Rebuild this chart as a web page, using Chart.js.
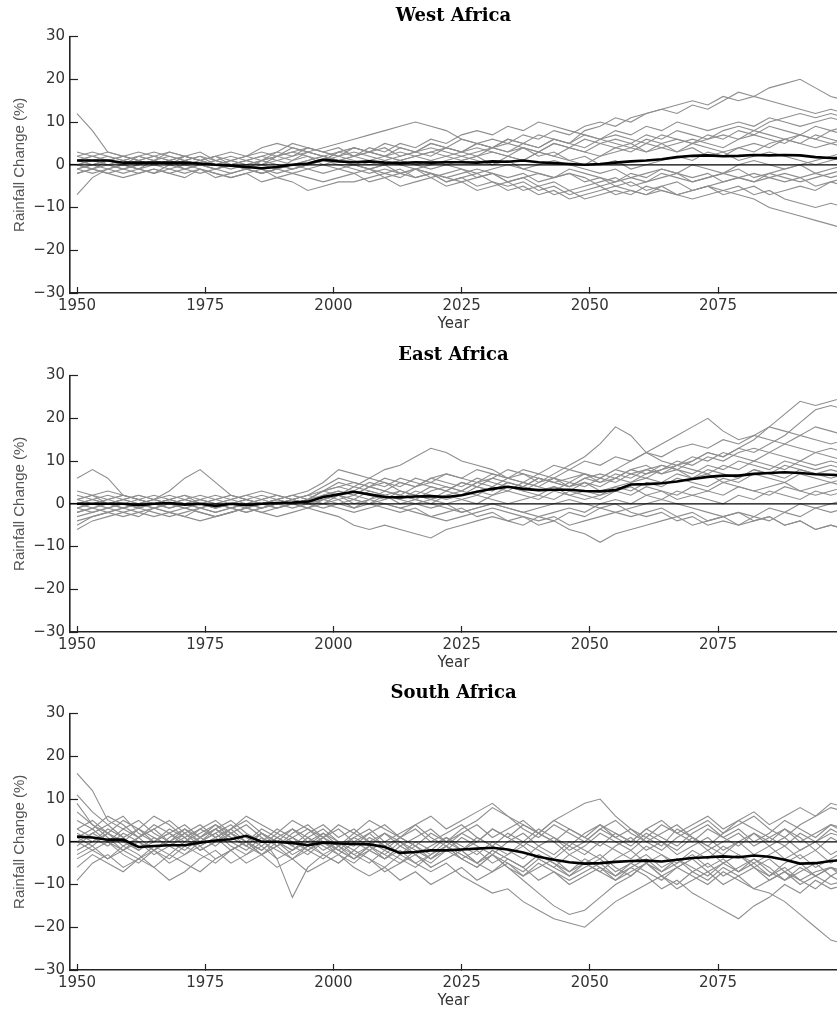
<!DOCTYPE html>
<html>
<head>
<meta charset="utf-8">
<title>Rainfall change, Africa</title>
<script src="https://cdn.jsdelivr.net/npm/chart.js@4.4.1/dist/chart.umd.min.js"></script>
<style>
  body { margin: 0; background: #fff; overflow: hidden; }
  canvas { position: absolute; left: 0; }
</style>
</head>
<body>
<canvas id="west" width="837" height="340" style="top:0px"></canvas>
<canvas id="east" width="837" height="340" style="top:339px"></canvas>
<canvas id="south" width="837" height="340" style="top:677px"></canvas>
<script>
const years = [1950, 1953, 1956, 1959, 1962, 1965, 1968, 1971, 1974, 1977, 1980, 1983, 1986, 1989, 1992, 1995, 1998,
  2001, 2004, 2007, 2010, 2013, 2016, 2019, 2022, 2025, 2028, 2031, 2034, 2037, 2040, 2043, 2046, 2049, 2052, 2055,
  2058, 2061, 2064, 2067, 2070, 2073, 2076, 2079, 2082, 2085, 2088, 2091, 2094, 2097, 2100];
const yearTicks = [1950, 1975, 2000, 2025, 2050, 2075];
const rainTicks = [-30, -20, -10, 0, 10, 20, 30];
const zeroLine = [{ x: 1940, y: 0 }, { x: 2110, y: 0 }];

// West Africa - model runs (% change), read every 3 years
const westRuns = [
  [12, 8, 3, 2, 1, 2, 1, 0, 1, 2, 0, -1, 1, 3, 2, 4, 3, 2, 4, 3, 5, 4, 3, 5, 4, 6, 5, 4, 6, 5, 7, 6, 5, 8, 9, 11, 10, 12, 13, 12, 14, 13, 15, 17, 16, 18, 19, 20, 18, 16, 15],
  [-1, 0, 1, 0, -1, 1, 0, 2, 1, 0, 1, 2, 3, 2, 4, 3, 2, 3, 4, 3, 2, 4, 3, 5, 4, 3, 5, 6, 5, 7, 6, 8, 7, 9, 10, 9, 11, 12, 13, 14, 15, 14, 16, 15, 16, 15, 14, 13, 12, 13, 12],
  [1, 2, 1, 0, 2, 1, 3, 2, 1, 2, 3, 2, 4, 5, 4, 3, 4, 5, 6, 7, 8, 9, 10, 9, 8, 6, 5, 4, 3, 4, 2, 3, 1, 2, 0, 1, -1, 0, 1, 2, 1, 3, 2, 4, 3, 5, 6, 7, 6, 8, 7],
  [0, -1, 1, 2, 1, 0, 1, -1, 0, 1, 2, 1, 0, 2, 3, 2, 1, 3, 2, 4, 3, 5, 4, 6, 5, 7, 8, 7, 9, 8, 10, 9, 8, 7, 6, 8, 7, 9, 8, 10, 9, 8, 9, 10, 9, 11, 10, 9, 10, 11, 10],
  [-2, -1, -2, -3, -2, -1, -2, -3, -1, -2, -3, -2, -4, -3, -2, -3, -4, -3, -2, -4, -3, -5, -4, -3, -5, -4, -6, -5, -4, -6, -5, -7, -6, -8, -7, -6, -7, -5, -6, -7, -6, -5, -6, -7, -8, -10, -11, -12, -13, -14, -15],
  [-7, -3, -1, 0, -1, -2, 0, 1, 0, -1, -2, -1, 0, -1, -2, -1, 0, 1, 0, -1, 0, -2, -1, -3, -2, -1, -3, -2, -4, -3, -5, -4, -6, -5, -4, -3, -5, -4, -3, -2, -4, -3, -2, -1, -3, -2, -1, 0, 1, 2, 3],
  [3, 2, 1, 2, 3, 2, 1, 2, 3, 1, 0, 1, 2, 3, 5, 4, 3, 4, 2, 3, 4, 2, 3, 2, 4, 3, 5, 4, 6, 5, 4, 6, 5, 4, 6, 7, 6, 5, 7, 6, 5, 6, 7, 6, 8, 7, 6, 5, 7, 6, 5],
  [1, 0, -1, -2, -1, -2, -1, 0, -1, -2, -3, -2, -1, -3, -4, -6, -5, -4, -4, -3, -2, -3, -1, -2, -3, -2, -1, -2, -3, -2, -4, -3, -2, -3, -5, -4, -3, -4, -2, -3, -4, -3, -2, -3, -4, -3, -2, -3, -2, -3, -2],
  [0, 1, 2, 1, 0, 1, 2, 1, 0, -1, 0, 1, 2, 1, 0, 1, 2, 1, 2, 3, 2, 1, 2, 3, 2, 3, 4, 3, 2, 4, 3, 5, 4, 3, 5, 6, 5, 7, 6, 8, 7, 6, 8, 9, 8, 10, 11, 12, 11, 12, 11],
  [-1, -2, -1, 0, 1, 0, -1, -2, -1, -3, -2, -1, -2, -1, 0, -1, -2, -1, 0, -1, -2, -1, -3, -2, -4, -3, -2, -4, -5, -4, -6, -5, -7, -6, -5, -7, -6, -7, -5, -4, -6, -5, -4, -3, -4, -2, -3, -4, -3, -2, -1],
  [2, 1, 0, 1, 2, 3, 2, 1, 2, 0, 1, 0, 1, 2, 1, 3, 2, 1, 2, 1, 0, 1, 2, 1, 0, 1, 2, 3, 2, 1, 3, 2, 4, 3, 2, 4, 3, 5, 4, 3, 5, 4, 3, 4, 5, 4, 6, 5, 4, 5, 4],
  [0, 1, 0, -1, 0, 1, 0, -1, -2, -1, 0, -1, 1, 0, -1, 0, 1, 0, -1, -2, -1, -2, -3, -2, -4, -3, -5, -4, -6, -5, -7, -6, -8, -7, -6, -5, -6, -7, -6, -7, -8, -7, -6, -5, -7, -6, -8, -9, -10, -9, -10],
  [-1, 0, 1, 0, -1, 0, 1, 2, 1, 0, -1, 0, -1, -2, -1, 0, 1, 2, 1, 0, 1, 0, -1, 0, 1, 2, 1, 0, 2, 1, 3, 2, 1, 0, 2, 3, 4, 3, 5, 6, 5, 7, 6, 8, 7, 9, 8, 7, 9, 8, 9],
  [1, 2, 3, 2, 1, 0, 1, 2, 1, 0, 1, 2, 1, 0, -1, 0, 1, 3, 4, 3, 2, 1, 0, 1, 2, 1, 2, 0, 1, -1, 0, 1, 0, -1, -2, -1, -3, -2, -1, -2, -3, -2, -4, -3, -2, -3, -4, -3, -5, -4, -3],
  [2, 3, 2, 1, 2, 1, 0, 1, 0, -1, 0, 1, 0, 1, 2, 3, 2, 1, 0, 1, 2, 3, 2, 3, 4, 3, 2, 4, 3, 5, 4, 6, 5, 7, 6, 5, 4, 6, 5, 3, 4, 2, 3, 1, 2, 3, 2, 1, 0, 1, 2],
  [-2, -1, 0, -1, -2, -1, -2, -1, 0, 1, 0, -1, -2, -1, 1, 2, 0, -1, -2, -1, -3, -2, -1, -2, -3, -4, -3, -2, -4, -3, -2, -3, -1, -2, -3, -4, -2, -3, -1, -2, 0, -1, -2, 0, 1, 0, -1, 0, -2, -1, 0],
  [0, -1, -2, -1, 0, 1, 0, 1, 2, 1, 0, -1, -2, -1, 0, 1, 2, 1, 0, -1, 0, 1, 0, -1, 0, -1, -2, -1, 0, -1, -2, -3, -2, -4, -3, -5, -4, -6, -5, -7, -6, -5, -7, -6, -5, -7, -6, -5, -6, -4, -5],
  [1, 0, 1, 2, 1, 2, 3, 2, 1, 2, 1, 0, 1, 2, 3, 4, 3, 2, 3, 2, 1, 2, 3, 4, 3, 2, 3, 4, 5, 4, 3, 5, 4, 6, 5, 4, 5, 3, 4, 5, 6, 5, 4, 6, 7, 6, 5, 7, 6, 5, 6]
];
const westMean = [1, 1, 1, 0.5, 0.5, 0.5, 0.5, 0.5, 0.3, 0, -0.2, -0.5, -0.8, -0.5, 0, 0.3, 1.2, 0.8, 0.6, 0.8, 0.5, 0.4, 0.6, 0.5, 0.6, 0.6,
  0.5, 0.8, 0.7, 1, 0.6, 0.4, 0.2, 0, 0.2, 0.5, 0.8, 1, 1.3, 1.8, 2.1, 2.2, 2, 2.1, 2.3, 2.2, 2.3, 2.2, 1.8, 1.6, 1.5];

// East Africa
const eastRuns = [
  [6, 8, 6, 2, 1, 0, 1, 2, 0, -1, 0, 1, 0, 1, 2, 1, 3, 5, 4, 6, 5, 4, 6, 5, 7, 6, 8, 7, 6, 8, 7, 9, 8, 10, 9, 11, 10, 12, 11, 13, 14, 13, 15, 14, 16, 15, 14, 16, 15, 14, 15],
  [1, 2, 0, 1, 2, 1, 3, 6, 8, 5, 2, 1, 0, 1, 2, 1, 3, 4, 3, 5, 4, 6, 5, 4, 3, 5, 4, 6, 5, 4, 6, 5, 4, 6, 7, 6, 8, 7, 9, 8, 7, 9, 8, 10, 9, 8, 10, 9, 8, 9, 8],
  [-1, 0, 1, 0, -1, 0, 1, 0, 1, 0, -1, 0, 1, 2, 1, 2, 4, 6, 5, 4, 3, 5, 4, 6, 5, 4, 6, 5, 4, 3, 5, 7, 9, 11, 14, 18, 16, 12, 10, 9, 11, 10, 12, 11, 10, 12, 11, 10, 12, 11, 10],
  [0, 1, 2, 1, 0, 1, 0, -1, 0, 1, 2, 1, 0, 1, 2, 3, 5, 8, 7, 6, 8, 9, 11, 13, 12, 10, 9, 8, 6, 7, 5, 6, 4, 5, 3, 4, 5, 6, 5, 7, 6, 8, 7, 6, 8, 7, 6, 8, 7, 6, 7],
  [-2, -1, 0, -1, 0, 1, 0, 1, 0, -1, 0, 1, 2, 1, 0, 1, 2, 3, 2, 4, 3, 2, 4, 5, 4, 3, 5, 4, 6, 5, 7, 6, 8, 7, 6, 8, 10, 12, 14, 16, 18, 20, 17, 15, 16, 18, 17, 16, 18, 17, 16],
  [1, 0, -1, 0, 1, 0, -1, 0, -1, -2, -1, 0, 1, 0, 1, 2, 1, 2, 3, 2, 1, 3, 2, 4, 3, 5, 4, 3, 5, 4, 6, 5, 4, 6, 5, 7, 6, 8, 9, 8, 10, 12, 11, 13, 15, 18, 21, 24, 23, 24, 25],
  [-1, -2, -1, 0, -1, 0, 1, 0, -1, 0, 1, 0, -1, 0, 1, 0, 2, 3, 2, 1, 3, 2, 1, 3, 4, 3, 2, 4, 3, 5, 4, 3, 5, 4, 6, 5, 7, 8, 7, 9, 10, 12, 11, 13, 12, 14, 16, 19, 22, 23, 22],
  [-5, -3, -2, -1, -2, -3, -2, -1, -2, -3, -2, -1, -2, -1, 0, -1, -2, -3, -5, -6, -5, -6, -7, -8, -6, -5, -4, -3, -4, -5, -3, -4, -2, -3, -1, -2, -3, -2, -1, -3, -2, -4, -3, -5, -4, -3, -5, -4, -6, -5, -6],
  [-6, -4, -3, -2, -1, -2, -3, -2, -1, 0, -1, -2, -1, 0, 1, 0, -1, 0, 1, 0, -1, -2, -1, -3, -2, -1, -3, -2, -4, -3, -5, -4, -6, -7, -9, -7, -6, -5, -4, -3, -5, -4, -3, -2, -3, -1, -2, 0, -1, 0, 1],
  [-3, -2, -1, -2, -3, -1, -2, -3, -1, -2, -1, 0, -1, 0, 1, 0, 1, 2, 0, 1, 2, 1, 0, -1, 0, -2, -1, 0, -1, -2, -1, 0, 1, 0, -1, 0, -2, -3, -2, -4, -3, -5, -4, -5, -3, -4, -2, -3, -1, -2, -1],
  [2, 1, 0, 1, 2, 1, 0, 1, 2, 1, 0, -1, 0, 1, 0, 1, 3, 2, 4, 3, 2, 3, 2, 1, 3, 2, 4, 3, 5, 4, 3, 4, 2, 3, 2, 4, 3, 5, 4, 6, 5, 4, 6, 5, 7, 6, 5, 7, 6, 5, 6],
  [0, -1, -2, -1, 0, -1, 0, -1, -2, -3, -2, -1, 0, -1, 0, 1, 0, 2, 1, 3, 2, 0, 1, 0, 2, 1, 0, 2, 3, 2, 1, 3, 2, 1, 2, 3, 4, 2, 3, 1, 2, 3, 2, 4, 3, 2, 4, 3, 2, 3, 4],
  [-4, -3, -2, -3, -2, -1, -2, -3, -4, -3, -2, -1, -2, -3, -2, -1, 0, -1, -2, -1, 0, -1, -2, -3, -4, -3, -2, -1, -2, -3, -4, -3, -5, -4, -3, -2, -1, 0, 1, 0, -1, -2, -3, -2, -4, -3, -5, -4, -6, -5, -6],
  [3, 2, 1, 2, 1, 0, 1, 2, 1, 0, 1, 2, 1, 2, 1, 2, 3, 4, 5, 4, 6, 5, 4, 6, 7, 6, 5, 7, 6, 5, 4, 6, 5, 7, 6, 8, 7, 6, 8, 9, 8, 7, 9, 8, 10, 9, 8, 10, 9, 10, 9],
  [0, 1, 0, -1, 0, 1, 2, 1, 0, -1, 0, 1, 0, -1, 0, 1, 0, 1, -1, 0, 1, 2, 1, 0, -1, -2, -1, 0, -1, -2, -3, -2, -1, -2, 0, 1, 0, 2, 1, 3, 2, 1, 0, 2, 1, 3, 2, 1, 3, 2, 3],
  [1, 2, 3, 2, 1, 2, 1, 0, 1, 2, 1, 2, 3, 2, 1, 0, 2, 1, 2, 4, 5, 3, 2, 1, 2, 3, 5, 6, 8, 7, 6, 5, 6, 7, 5, 6, 8, 9, 7, 8, 6, 7, 5, 6, 8, 7, 9, 8, 7, 8, 7],
  [-2, -1, 0, 1, 0, -1, 0, 1, 0, 1, 2, 1, 0, 1, 0, -1, 1, 2, 1, 0, 2, 1, 3, 2, 1, 2, 3, 2, 4, 3, 2, 4, 3, 5, 4, 6, 5, 7, 8, 10, 9, 11, 10, 12, 13, 12, 14, 13, 12, 13, 12],
  [-1, 0, 1, 2, 1, 0, -1, 0, 1, 0, -1, -2, -1, 0, -1, 0, 1, 0, -1, 1, 0, -1, 0, 1, 0, 1, 2, 1, 0, 1, 2, 1, 3, 2, 1, 3, 2, 4, 3, 2, 4, 3, 5, 4, 3, 4, 5, 3, 4, 5, 4]
];
const eastMean = [0, 0, 0, 0, -0.3, 0, 0.2, -0.2, 0, -0.5, 0, -0.3, 0, 0.2, 0.3, 0.5, 1.6, 2.2, 2.8, 2.2, 1.6, 1.5, 1.7, 1.8, 1.6, 2,
  2.8, 3.5, 4, 3.5, 3.2, 3.3, 3.3, 3, 2.9, 3.2, 4.5, 4.6, 4.8, 5.2, 5.8, 6.3, 6.6, 6.6, 7, 7.2, 7.4, 7.2, 6.9, 6.8, 6.6];

// South Africa
const southRuns = [
  [16, 12, 5, 3, 1, 4, 2, 0, 3, 1, -2, 0, 2, -1, 1, 3, 0, -2, 1, -1, 2, 0, -3, -1, 1, -2, 0, 3, 1, -1, 2, 0, -3, -1, 2, 0, -2, 1, -1, 3, 1, -2, 0, 2, -1, 1, 3, 0, 2, 4, 3],
  [11, 7, 4, 6, 2, 0, 3, 1, -2, 0, 3, 5, 2, 0, -2, 1, 3, 0, -1, 2, 4, 1, -1, 2, 0, 3, 5, 8, 6, 3, 1, 4, 2, 0, 3, 5, 2, 0, -2, 1, 3, 5, 2, 4, 6, 3, 1, 4, 6, 8, 7],
  [9, 4, 1, -2, -4, -1, -3, 0, 2, 4, 1, -1, 2, 0, -3, -1, 1, -2, -4, -1, -3, -5, -2, -4, -1, -3, -5, -2, -4, -6, -3, -5, -8, -6, -4, -7, -5, -3, -6, -4, -7, -5, -8, -6, -4, -7, -9, -6, -8, -10, -9],
  [-9, -5, -3, -6, -4, -2, -5, -3, -1, -4, -2, 0, -3, -1, -4, -2, 0, -3, -5, -2, -4, -1, -3, -6, -4, -2, -5, -3, -6, -8, -5, -7, -9, -7, -5, -8, -6, -4, -7, -5, -3, -6, -4, -7, -5, -8, -6, -9, -7, -6, -8],
  [2, 0, 3, 1, -2, 0, 2, -1, 1, 3, 0, -2, 1, -4, -13, -6, -3, -1, -4, -2, 0, -3, -1, -4, -2, 1, -1, -3, 0, 2, -1, 1, -2, 0, 3, 1, -1, 2, 0, -2, 1, -1, -3, 0, 2, -1, 1, -2, 0, 2, 1],
  [0, -2, -4, -1, -3, -6, -9, -7, -4, -2, -5, -3, -1, -4, -2, 0, -3, -5, -2, -4, -7, -5, -3, -6, -4, -2, -5, -7, -4, -6, -9, -7, -10, -8, -6, -9, -7, -5, -8, -10, -7, -9, -6, -8, -11, -9, -7, -10, -8, -6, -9],
  [3, 5, 2, 0, 3, 1, -1, 2, 4, 1, 3, 6, 4, 2, 5, 3, 1, 4, 2, 5, 3, 1, 4, 6, 3, 5, 7, 9, 6, 4, 2, 5, 3, 1, 4, 2, 0, 3, 1, -1, 2, 4, 1, 3, 0, 2, 5, 3, 1, 4, 2],
  [-1, 2, 0, 3, 5, 2, 0, 3, 1, 4, 2, 0, -2, 1, 3, 0, 2, -1, 1, 3, 0, 2, 4, 1, -1, 2, 0, 3, 1, 4, 2, 5, 7, 9, 10, 6, 3, 1, 4, 2, 0, 3, 1, -1, 2, 0, 3, 1, -2, 1, -1],
  [1, -1, 2, 0, -2, 1, -1, -3, 0, 2, -1, -3, 0, -2, -4, -1, -3, -5, -2, -4, -6, -3, -5, -7, -5, -8, -10, -12, -11, -14, -16, -18, -19, -20, -17, -14, -12, -10, -8, -11, -9, -7, -10, -8, -6, -9, -7, -5, -8, -6, -7],
  [-3, -1, -4, -2, 0, -3, -1, 1, -2, 0, 2, -1, -3, 0, -2, 1, -1, -3, 0, -2, -4, -1, -3, -5, -2, -4, -6, -3, -5, -7, -4, -6, -8, -5, -7, -9, -6, -8, -11, -9, -12, -14, -16, -18, -15, -13, -10, -12, -9, -11, -10],
  [-2, 0, 2, -1, 1, -2, 0, 2, -1, 1, 3, 0, -2, 1, -1, -3, 0, -2, -4, -1, -3, 0, -2, -4, -1, -3, -5, -2, -4, -6, -3, -5, -7, -4, -6, -8, -5, -7, -9, -6, -8, -10, -7, -9, -11, -12, -14, -17, -20, -23, -24],
  [0, 2, 4, 1, 3, 0, 2, 4, 1, -1, 2, 0, 3, 1, -1, 2, 4, 1, 3, 0, 2, -1, 1, 3, 0, 2, 4, 1, 3, 5, 2, 0, 3, 1, -1, 2, 0, 3, 5, 2, 4, 6, 3, 5, 7, 4, 6, 8, 6, 9, 8],
  [-4, -2, 0, -3, -5, -2, -4, -1, -3, -5, -2, 0, -3, -1, 1, -2, -4, -1, -3, -5, -2, -4, -6, -3, -1, -4, -2, -5, -3, -1, -4, -6, -3, -5, -7, -4, -2, -5, -3, -6, -4, -2, -5, -3, -6, -8, -5, -3, -6, -4, -2],
  [5, 3, 6, 4, 1, 3, 0, -2, 1, 3, 5, 2, 0, 3, 1, -1, 2, 0, -2, 1, -1, -3, 0, -2, 1, -1, -3, 0, -2, -4, -1, -3, 0, -2, -4, -1, 1, -2, 0, -3, -1, 1, -2, 0, -3, -1, -4, -2, 0, -3, -1],
  [1, 3, 0, -2, 1, 3, 5, 2, 0, 3, 1, -1, 2, 0, 3, 1, -2, 0, -3, -1, -4, -2, -5, -3, -1, -4, -6, -3, -6, -9, -12, -15, -17, -16, -13, -10, -8, -5, -8, -6, -4, -7, -5, -3, -6, -4, -7, -9, -11, -8, -10],
  [7, 4, 2, 5, 3, 6, 4, 1, 3, 5, 2, 4, 1, -1, 2, 4, 1, 3, 0, 2, -1, 1, 3, 0, 2, 4, 1, -1, 2, 0, 3, 1, -1, 2, 4, 1, 3, 0, 2, 4, 1, -1, 2, 5, 3, 1, -1, 2, 0, 3, 1],
  [-6, -3, -5, -7, -4, -6, -3, -5, -7, -4, -2, -5, -3, -6, -4, -7, -5, -3, -6, -8, -6, -9, -7, -10, -8, -6, -9, -7, -5, -8, -6, -4, -7, -5, -3, -6, -8, -5, -7, -4, -6, -8, -5, -7, -4, -6, -9, -7, -5, -8, -6],
  [3, 1, -1, 2, 0, -2, 1, 3, 0, 2, 4, 1, -1, 2, 0, -2, 1, -1, 2, 0, -2, 1, -1, -3, 0, -2, 1, -1, -3, 0, -2, -4, -1, -3, 0, -2, -4, -1, -3, -5, -2, -4, -1, -3, -5, -3, -1, -4, -2, -5, -3]
];
const southMean = [1.2, 1, 0.5, 0.5, -1.2, -1, -0.8, -0.8, -0.2, 0.3, 0.6, 1.4, 0, 0, -0.3, -0.8, -0.2, -0.4, -0.5, -0.6, -1.2, -2.6,
  -2.4, -2, -2, -1.8, -1.6, -1.4, -1.8, -2.5, -3.5, -4.2, -4.8, -5.1, -5, -4.7, -4.5, -4.4, -4.6, -4.2, -3.8, -3.6, -3.4, -3.6,
  -3.2, -3.5, -4.2, -5.1, -5, -4.5, -4.2];

const tickFont = { family: 'DejaVu Sans', size: 15 };

function drawPanel(canvasId, title, runs, mean) {
  // first dataset is painted last, so the mean goes on top
  const datasets = [
    { data: mean, borderColor: '#000', borderWidth: 2.6 },
    { data: zeroLine, borderColor: '#000', borderWidth: 1.2 }
  ];
  for (const run of runs) {
    datasets.push({ data: run, borderColor: '#8e8e8e', borderWidth: 1.1 });
  }

  new Chart(document.getElementById(canvasId), {
    type: 'line',
    data: { labels: years, datasets },
    options: {
      responsive: false,
      animation: false,
      events: [],
      layout: { padding: 0 },
      elements: { point: { radius: 0 }, line: { tension: 0 } },
      plugins: {
        legend: { display: false },
        tooltip: { enabled: false },
        title: {
          display: true,
          text: title,
          fullSize: false,
          color: '#000',
          font: { family: 'DejaVu Serif', size: 18, weight: 'bold' },
          padding: { top: 6, bottom: 9 }
        }
      },
      scales: {
        x: {
          type: 'linear',
          min: 1948.63,
          max: 2098.2,
          afterBuildTicks: s => { s.ticks = yearTicks.map(v => ({ value: v })); },
          afterFit: s => { s.height = 47; },
          grid: { drawOnChartArea: false, tickLength: -6, tickColor: '#222', tickWidth: 1.2 },
          border: { color: '#222', width: 1.6 },
          ticks: { padding: 10, color: '#333', font: tickFont, maxRotation: 0, autoSkip: false, callback: v => String(v) },
          title: { display: true, text: 'Year', color: '#333', font: tickFont, padding: { top: 0, bottom: 7 } }
        },
        y: {
          min: -30,
          max: 30,
          afterBuildTicks: s => { s.ticks = rainTicks.map(v => ({ value: v })); },
          afterFit: s => { s.width = 70; },
          grid: { drawOnChartArea: false, tickLength: -8, tickColor: '#222', tickWidth: 1.2 },
          border: { color: '#222', width: 1.6 },
          ticks: { padding: 13, color: '#333', font: tickFont, callback: v => (v < 0 ? '\u2212' + Math.abs(v) : String(v)) },
          title: {
            display: true,
            text: 'Rainfall Change (%)',
            color: '#555',
            font: { family: 'Liberation Sans', size: 15 },
            padding: { top: 11, bottom: 0 }
          }
        }
      }
    }
  });
}

drawPanel('west', 'West Africa', westRuns, westMean);
drawPanel('east', 'East Africa', eastRuns, eastMean);
drawPanel('south', 'South Africa', southRuns, southMean);
</script>
</body>
</html>
